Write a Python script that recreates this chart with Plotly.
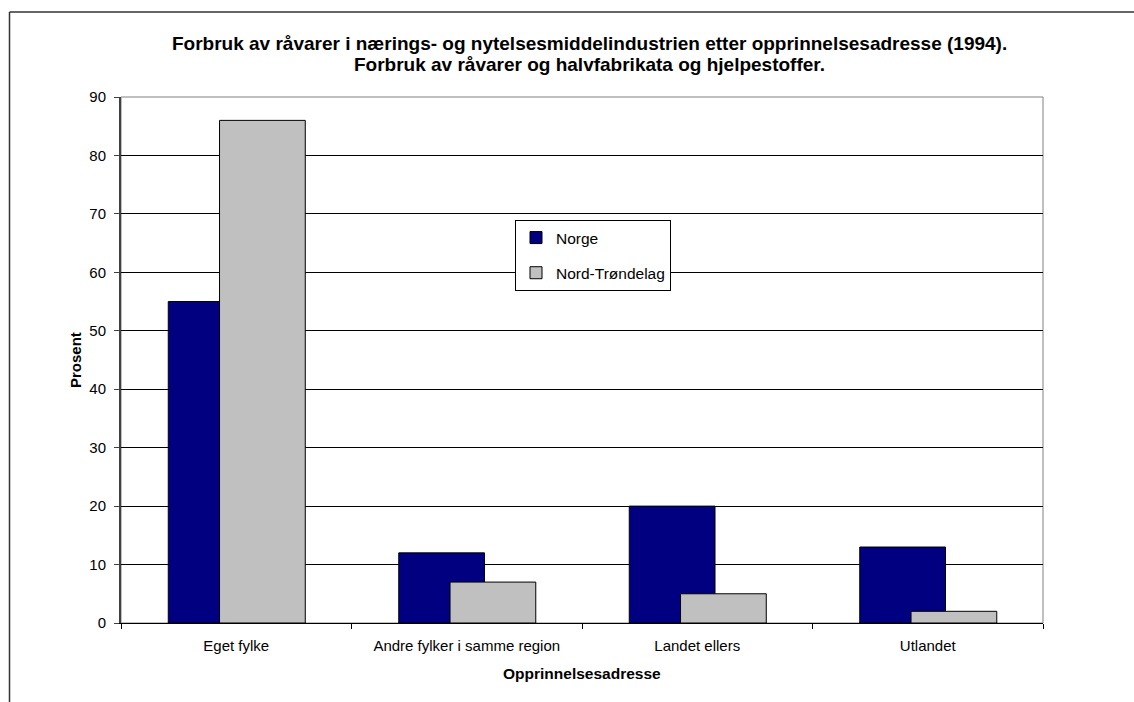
import plotly.graph_objects as go

categories = ["Eget fylke", "Andre fylker i samme region", "Landet ellers", "Utlandet"]
norge = [55, 12, 20, 13]
nord_trondelag = [86, 7, 5, 2]
series_names = ["Norge", "Nord-Trøndelag"]
title_lines = [
    "Forbruk av råvarer i nærings- og nytelsesmiddelindustrien etter opprinnelsesadresse (1994).",
    "Forbruk av råvarer og halvfabrikata og hjelpestoffer.",
]
x_title = "Opprinnelsesadresse"
y_title = "Prosent"

W, H = 1134, 702
ML, MR, MT, MB = 121, 91, 97, 79
PW, PH = W - ML - MR, H - MT - MB

def px(x):
    return (x - ML) / PW

def py(y):
    return (H - MB - y) / PH

FONT = "Liberation Sans, Arial, sans-serif"

fig = go.Figure()
fig.add_trace(go.Bar(
    x=categories, y=norge, name=series_names[0],
    marker=dict(color="#000080", line=dict(color="#000000", width=1)),
    width=0.372, offset=-0.295, legendgroup="a",
))
fig.add_trace(go.Bar(
    x=categories, y=nord_trondelag, name=series_names[1],
    marker=dict(color="#C0C0C0", line=dict(color="#000000", width=1)),
    width=0.372, offset=-0.0725, legendgroup="b",
))

annotations = [
    dict(text="<b>%s</b>" % title_lines[0], x=px(589), y=py(44), xref="paper", yref="paper",
         showarrow=False, xanchor="center", yanchor="middle", font=dict(size=19, family=FONT, color="#000")),
    dict(text="<b>%s</b>" % title_lines[1], x=px(589), y=py(64), xref="paper", yref="paper",
         showarrow=False, xanchor="center", yanchor="middle", font=dict(size=19, family=FONT, color="#000")),
    dict(text="<b>%s</b>" % x_title, x=0.5, y=py(673), xref="paper", yref="paper",
         showarrow=False, xanchor="center", yanchor="middle", font=dict(size=15.5, family=FONT, color="#000")),
    dict(text="<b>%s</b>" % y_title, x=px(75), y=0.5, xref="paper", yref="paper", textangle=-90,
         showarrow=False, xanchor="center", yanchor="middle", font=dict(size=15, family=FONT, color="#000")),
]

shapes = [
    dict(type="rect", xref="paper", yref="paper", x0=0, y0=0, x1=1, y1=1,
         line=dict(color="#808080", width=1), layer="below"),
    dict(type="line", xref="paper", yref="paper", x0=px(9.5), x1=px(W + 5), y0=py(12), y1=py(12),
         line=dict(color="#333333", width=1.5)),
    dict(type="line", xref="paper", yref="paper", x0=px(9.5), x1=px(9.5), y0=py(12), y1=py(H + 5),
         line=dict(color="#333333", width=1.5)),
]

fig.update_layout(
    width=W, height=H,
    margin=dict(l=ML, r=MR, t=MT, b=MB, autoexpand=False),
    paper_bgcolor="#FFFFFF", plot_bgcolor="#FFFFFF",
    barmode="overlay",
    font=dict(family=FONT, size=15, color="#000"),
    showlegend=True,
    legend=dict(
        x=px(515), y=py(220), xanchor="left", yanchor="top",
        bordercolor="#000000", borderwidth=1, bgcolor="#FFFFFF",
        font=dict(size=15.5, family=FONT, color="#000"),
        tracegroupgap=12, traceorder="grouped",
    ),
    annotations=annotations,
    shapes=shapes,
    xaxis=dict(
        type="category", tickson="boundaries", ticks="outside", ticklen=5, tickcolor="#000",
        showline=True, linecolor="#000000", linewidth=1, showgrid=False,
        ticklabelstandoff=9, range=[-0.5, 3.5], fixedrange=True,
    ),
    yaxis=dict(
        range=[0, 90], dtick=10, ticks="outside", ticklen=5, tickcolor="#404040",
        showline=True, linecolor="#404040", linewidth=2,
        showgrid=True, gridcolor="#000000", gridwidth=1, zeroline=False,
        ticklabelstandoff=5, fixedrange=True,
    ),
)

fig.write_html("out.html")
